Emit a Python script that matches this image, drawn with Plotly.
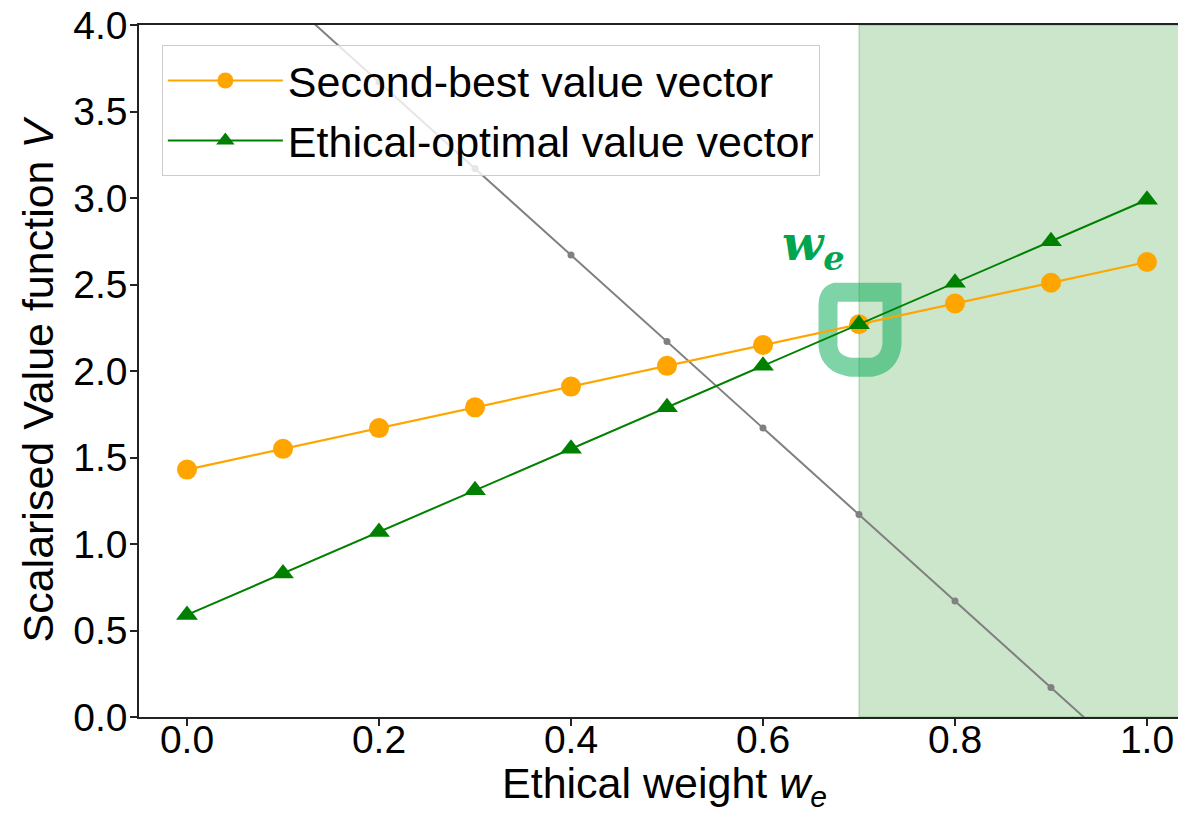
import plotly.graph_objects as go

# Ethical weight grid
weights = [0.0, 0.1, 0.2, 0.3, 0.4, 0.5, 0.6, 0.7, 0.8, 0.9, 1.0]

# Scalarised value of each policy's value vector
second_best = [1.43, 1.55, 1.67, 1.79, 1.91, 2.03, 2.15, 2.27, 2.39, 2.51, 2.63]
ethical_optimal = [0.59, 0.83, 1.07, 1.31, 1.55, 1.79, 2.03, 2.27, 2.51, 2.75, 2.99]
reference_line = [4.67, 4.17, 3.67, 3.17, 2.67, 2.17, 1.67, 1.17, 0.67, 0.17, -0.33]

threshold_w = 0.7
threshold_v = 2.27

x_ticks = [0.0, 0.2, 0.4, 0.6, 0.8, 1.0]
y_ticks = [0.0, 0.5, 1.0, 1.5, 2.0, 2.5, 3.0, 3.5, 4.0]

FONT = "Liberation Sans, Arial, sans-serif"

fig = go.Figure()

fig.add_trace(go.Scatter(
    x=weights, y=reference_line, mode="lines+markers",
    line=dict(color="gray", width=2),
    marker=dict(color="gray", size=7),
    showlegend=False, hoverinfo="skip",
))
fig.add_trace(go.Scatter(
    x=weights, y=second_best, mode="lines+markers",
    name="Second-best value vector", legendgroup="a",
    line=dict(color="orange", width=2.2),
    marker=dict(color="orange", size=20, symbol="circle"),
))
fig.add_trace(go.Scatter(
    x=weights, y=ethical_optimal, mode="lines+markers",
    name="Ethical-optimal value vector", legendgroup="b",
    line=dict(color="green", width=2),
    marker=dict(color="green", size=19, symbol="triangle-up"),
))

# Region where the ethical-optimal policy wins
fig.add_shape(
    type="rect", xref="x", yref="paper",
    x0=threshold_w, x1=1.2, y0=0, y1=1,
    fillcolor="rgba(0,128,0,0.2)",
    line=dict(color="rgba(0,128,0,0.2)", width=1.5),
    layer="below",
)

# Hand-drawn loop around the crossing point
fig.add_shape(
    type="path", xref="x", yref="y",
    xsizemode="pixel", ysizemode="pixel",
    xanchor=threshold_w, yanchor=threshold_v,
    path=("M -24,32 L 33,32 L 33,-20 Q 31,-40 12,-43 L -8,-43 "
          "Q -29,-40 -31,-22 L -31,18 Q -31,30 -24,32 Z"),
    line=dict(color="rgba(0,170,80,0.5)", width=19),
    fillcolor="rgba(0,0,0,0)",
    layer="below",
)

fig.add_annotation(
    x=threshold_w, y=threshold_v, xref="x", yref="y",
    xshift=-45, yshift=78,
    text="<b><i>w</i></b><sub><b><i>e</i></b></sub>",
    showarrow=False,
    font=dict(family="DejaVu Serif", size=48, color="#00A550"),
)

# Axis titles
fig.add_annotation(
    x=0.506, y=-0.058, xref="paper", yref="paper",
    xanchor="center", yanchor="top",
    text="Ethical weight <i>w</i><sub><i>e</i></sub>",
    showarrow=False, font=dict(family=FONT, size=43, color="black"),
)
fig.add_annotation(
    x=-0.097, y=0.488, xref="paper", yref="paper",
    xanchor="center", yanchor="middle", textangle=-90,
    text="Scalarised Value function <i>V</i>",
    showarrow=False, font=dict(family=FONT, size=43, color="black"),
)

fig.update_layout(
    width=1178, height=814,
    margin=dict(l=139, r=0, t=25, b=97),
    paper_bgcolor="white", plot_bgcolor="white",
    font=dict(family=FONT, size=39, color="black"),
    showlegend=True,
    legend=dict(
        x=0.022, y=0.971, xanchor="left", yanchor="top",
        bgcolor="rgba(255,255,255,0.8)",
        bordercolor="#cccccc", borderwidth=1,
        font=dict(family=FONT, size=43, color="black"),
        itemwidth=115, tracegroupgap=1,
    ),
    xaxis=dict(
        range=[-0.05, 1.0323],
        tickvals=x_ticks, tickformat=".1f",
        ticks="outside", ticklen=7, tickwidth=1.5, tickcolor="#222",
        showline=True, linecolor="#222", linewidth=1.5, mirror=True,
        showgrid=False, zeroline=False,
        ticklabelstandoff=-20,
        tickfont=dict(family=FONT, size=39),
    ),
    yaxis=dict(
        range=[0, 4],
        tickvals=y_ticks, tickformat=".1f",
        ticks="outside", ticklen=7, tickwidth=1.5, tickcolor="#222",
        showline=True, linecolor="#222", linewidth=1.5, mirror=False,
        showgrid=False, zeroline=False,
        ticklabelstandoff=-5,
        tickfont=dict(family=FONT, size=39),
    ),
)

fig.write_html("out.html")
